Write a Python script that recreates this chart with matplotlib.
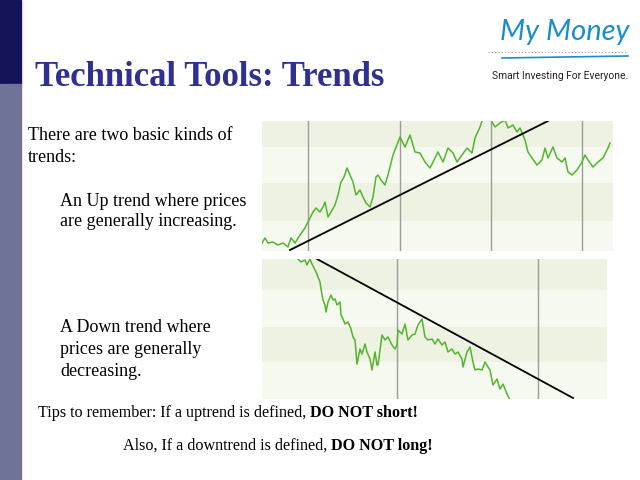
import matplotlib
matplotlib.use("Agg")
import matplotlib.pyplot as plt
from matplotlib.lines import Line2D
from matplotlib.patches import Rectangle

# uptrend chart: trading day vs price
up_days = [0, 3, 6, 11, 16, 21, 26, 29, 33, 38, 43, 48, 51, 54, 58, 61, 63, 66, 69, 73,
           76, 79, 82, 85, 88, 91, 94, 98, 101, 104, 108, 111, 114, 116, 119, 123, 126,
           131, 138, 143, 148, 153, 158, 163, 168, 171, 176, 181, 186, 191, 195, 200,
           205, 210, 213, 218, 222, 226, 230, 233, 238, 243, 246, 251, 255, 258, 263,
           266, 270, 275, 280, 283, 286, 291, 295, 300, 303, 306, 310, 315, 320, 323,
           326, 331, 336, 341, 346, 348]
up_price = [8, 13, 8, 9, 6, 8, 4, 13, 8, 16, 23, 33, 39, 43, 39, 44, 49, 34, 39, 46,
            56, 69, 74, 83, 76, 69, 56, 61, 54, 48, 44, 54, 74, 76, 71, 66, 76,
            96, 114, 104, 116, 99, 98, 89, 83, 89, 99, 89, 103, 98, 89, 96,
            103, 98, 113, 124, 136, 139, 129, 124, 128, 131, 123, 126, 119, 123, 111,
            99, 93, 86, 91, 103, 93, 104, 93, 89, 93, 79, 76, 81, 89, 96,
            91, 84, 89, 93, 103, 108]
up_trend_days = [28, 286]
up_trend_price = [1, 130]
up_vlines = [46, 138, 229, 320]

# downtrend chart
down_days = [36, 39, 43, 45, 48, 50, 53, 54, 56, 58, 59, 61, 63, 64, 66, 69, 71, 73, 75,
             78, 79, 81, 83, 86, 89, 91, 93, 95, 98, 100, 103, 105, 108, 110, 113, 115,
             116, 120, 123, 126, 130, 133, 135, 136, 140, 143, 146, 150, 153, 156, 160,
             163, 166, 170, 173, 176, 180, 183, 186, 190, 193, 196, 200, 201, 205, 208,
             211, 213, 216, 220, 223, 226, 228, 231, 235, 238, 241, 245, 248]
down_price = [140, 137, 139, 134, 140, 135, 129, 127, 122, 117, 110, 99, 94, 87, 97, 104,
              99, 100, 94, 97, 84, 80, 75, 77, 70, 62, 59, 35, 50, 45, 55, 47, 40, 29,
              47, 34, 34, 64, 59, 62, 54, 50, 54, 69, 65, 75, 59, 64, 65, 74, 80,
              62, 59, 60, 55, 60, 54, 57, 47, 50, 45, 47, 40, 32, 47, 52,
              37, 29, 30, 29, 37, 32, 29, 14, 20, 10, 15, 5, -1]
down_trend_days = [55, 311]
down_trend_price = [140, 1]
down_vlines = [135, 276]

W, H = 640, 480
fig = plt.figure(figsize=(6.4, 4.8), dpi=100)
fig.patch.set_facecolor("white")


def fx(x):
    return x / W


def fy(y):
    return 1 - y / H


# left side bar
fig.patches.append(Rectangle((0, fy(84)), fx(21), 84 / H, transform=fig.transFigure,
                             color="#14145a", zorder=0))
fig.patches.append(Rectangle((0, 0), fx(21), fy(84), transform=fig.transFigure,
                             color="#6e7397", zorder=0))

serif = ["Liberation Serif", "DejaVu Serif"]

fig.text(fx(35), fy(86), "Technical Tools: Trends", family=serif, weight="bold",
         size=25, color="#2e3192", va="baseline")

# logo
fig.text(fx(565), fy(32), "My Money", family=["Lato", "DejaVu Sans"], style="italic",
         size=21, color="#1b8dcc", ha="center", va="center")
fig.lines.append(Line2D([fx(488), fx(628)], [fy(52), fy(52)], transform=fig.transFigure,
                        color="#9a9a9a", lw=0.8, ls=(0, (1, 2))))
fig.lines.append(Line2D([fx(502), fx(628)], [fy(58), fy(56)], transform=fig.transFigure,
                        color="#1b8dcc", lw=1.2))
fig.text(fx(628), fy(76), "Smart Investing For Everyone.",
         family=["Roboto", "DejaVu Sans"], size=7.4, color="#222222",
         ha="right", va="center")

body = [
    (28, 136, "There are two basic kinds of"),
    (28, 157, "trends:"),
    (60, 201, "An Up trend where prices"),
    (60, 222, "are generally increasing."),
    (60, 328, "A Down trend where"),
    (60, 350, "prices are generally"),
    (60, 372, "decreasing."),
]
for x, y, s in body:
    fig.text(fx(x), fy(y), s, family=serif, size=13, color="black", va="center")


def chart(rect, days, price, tdays, tprice, vlines, xmax, ymax, bands):
    l, t, r, b = rect
    ax = fig.add_axes([fx(l), fy(b), (r - l) / W, (b - t) / H])
    ax.set_facecolor("#f6f9f0")
    for lo, hi in bands:
        ax.axhspan(lo, hi, color="#eef2e2", lw=0, zorder=0)
    for v in vlines:
        ax.axvline(v, color="#9c9c9c", lw=1, zorder=1)
    ax.plot(days, price, color="#52b52c", lw=1.1, zorder=2)
    ax.plot(tdays, tprice, color="black", lw=1.3, zorder=3)
    ax.set_xlim(0, xmax)
    ax.set_ylim(0, ymax)
    ax.set_xticks([])
    ax.set_yticks([])
    for sp in ax.spines.values():
        sp.set_visible(False)
    return ax


chart((262, 121, 613, 251), up_days, up_price, up_trend_days, up_trend_price,
      up_vlines, 351, 130, [(104, 130), (30, 68)])
chart((262, 259, 607, 399), down_days, down_price, down_trend_days, down_trend_price,
      down_vlines, 345, 140, [(109, 140), (37, 72)])

# tips lines with bold endings
fig.canvas.draw()
rend = fig.canvas.get_renderer()
for x, y, plain, bold in [(38, 413, "Tips to remember: If a uptrend is defined, ", "DO NOT short!"),
                          (123, 446, "Also, If a downtrend is defined, ", "DO NOT long!")]:
    t = fig.text(fx(x), fy(y), plain, family=serif, size=11.6, color="black", va="center")
    bb = t.get_window_extent(rend)
    fig.text(bb.x1 / W, fy(y), bold, family=serif, size=11.6, weight="bold",
             color="black", va="center")

fig.savefig("out.png", dpi=100)
